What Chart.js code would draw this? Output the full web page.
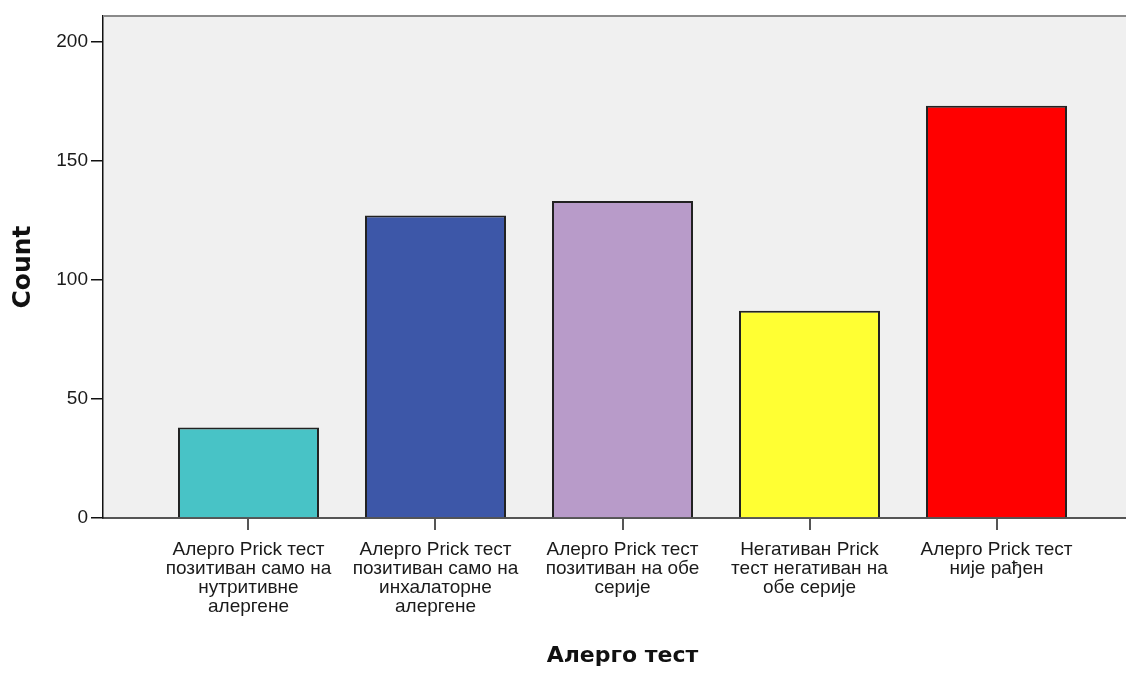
<!DOCTYPE html>
<html>
<head>
<meta charset="utf-8">
<script src="https://cdn.jsdelivr.net/npm/chart.js@4/dist/chart.umd.min.js"></script>
<style>
  html, body { margin: 0; padding: 0; background: #fff; overflow: hidden; }
  #c { display: block; }
</style>
</head>
<body>
<canvas id="c" width="1142" height="673" style="width:1142px;height:673px"></canvas>
<script>
// data
const categories = [
  ['Алерго Prick тест', 'позитиван само на', 'нутритивне', 'алергене'],
  ['Алерго Prick тест', 'позитиван само на', 'инхалаторне', 'алергене'],
  ['Алерго Prick тест', 'позитиван на обе', 'серије'],
  ['Негативан Prick', 'тест негативан на', 'обе серије'],
  ['Алерго Prick тест', 'није рађен']
];
const counts = [38, 127, 133, 87, 173];
const barColors = ['#48c3c6', '#3d57a8', '#b89bc9', '#ffff33', '#ff0000'];
const yTicks = [0, 50, 100, 150, 200];
const xTitle = 'Алерго тест';
const yTitle = 'Count';

/* fond gris + bord du haut ---------------------------------------------- */
const frame = {
  id: 'frame',
  beforeDraw(chart) {
    const {ctx, chartArea: a} = chart;
    ctx.save();
    ctx.fillStyle = '#f0f0f0';
    ctx.fillRect(a.left, a.top, a.right - a.left, a.bottom - a.top);
    ctx.restore();
  },
  afterDraw(chart) {
    const {ctx, chartArea: a} = chart;
    ctx.save();
    ctx.strokeStyle = '#8a8a8a';
    ctx.lineWidth = 2;
    ctx.beginPath();
    ctx.moveTo(a.left, a.top);
    ctx.lineTo(a.right, a.top);
    ctx.stroke();
    ctx.restore();
  }
};

new Chart(document.getElementById('c'), {
  type: 'bar',
  data: {
    datasets: [{
      data: counts.map((v, i) => ({x: i, y: v})),
      backgroundColor: barColors,
      borderColor: '#222',
      borderWidth: 2,
      barPercentage: 1,
      categoryPercentage: 0.754
    }]
  },
  options: {
    responsive: false,
    animation: false,
    layout: { padding: { top: 16, left: 0, right: 0, bottom: 0 } },
    plugins: { legend: { display: false }, tooltip: { enabled: false } },
    scales: {
      x: {
        type: 'linear',
        offset: false,
        min: -0.778, max: 4.778,
        afterBuildTicks: s => { s.ticks = categories.map((_, i) => ({value: i})); },
        afterFit: s => { s.height = 155; },
        grid: { drawOnChartArea: false, drawTicks: true, tickLength: 12, color: '#555', lineWidth: 2, offset: false },
        border: { display: true, color: '#555', width: 2 },
        ticks: {
          autoSkip: false, maxRotation: 0, padding: 10,
          color: '#1a1a1a',
          font: { family: 'Liberation Sans', size: 19, lineHeight: 1.0 },
          callback: v => categories[v] || ''
        },
        title: {
          display: true, text: xTitle, color: '#111',
          font: { family: 'DejaVu Sans', size: 22, weight: 'bold', lineHeight: 1.2 },
          padding: { top: 0, bottom: 4 }
        }
      },
      y: {
        min: 0, max: 210.7,
        afterBuildTicks: s => { s.ticks = yTicks.map(v => ({value: v})); },
        afterFit: s => { s.width = 103; },
        grid: { drawOnChartArea: false, drawTicks: true, tickLength: 12, color: '#111', lineWidth: 1.5 },
        border: { display: true, color: '#111', width: 1.5 },
        ticks: {
          padding: 3, color: '#1a1a1a',
          font: { family: 'Liberation Sans', size: 19 }
        },
        title: {
          display: true, text: yTitle, color: '#111',
          font: { family: 'DejaVu Sans', size: 25, weight: 'bold', lineHeight: 1.2 },
          padding: { top: 8, bottom: 0 }
        }
      }
    }
  },
  plugins: [frame]
});
</script>
</body>
</html>
